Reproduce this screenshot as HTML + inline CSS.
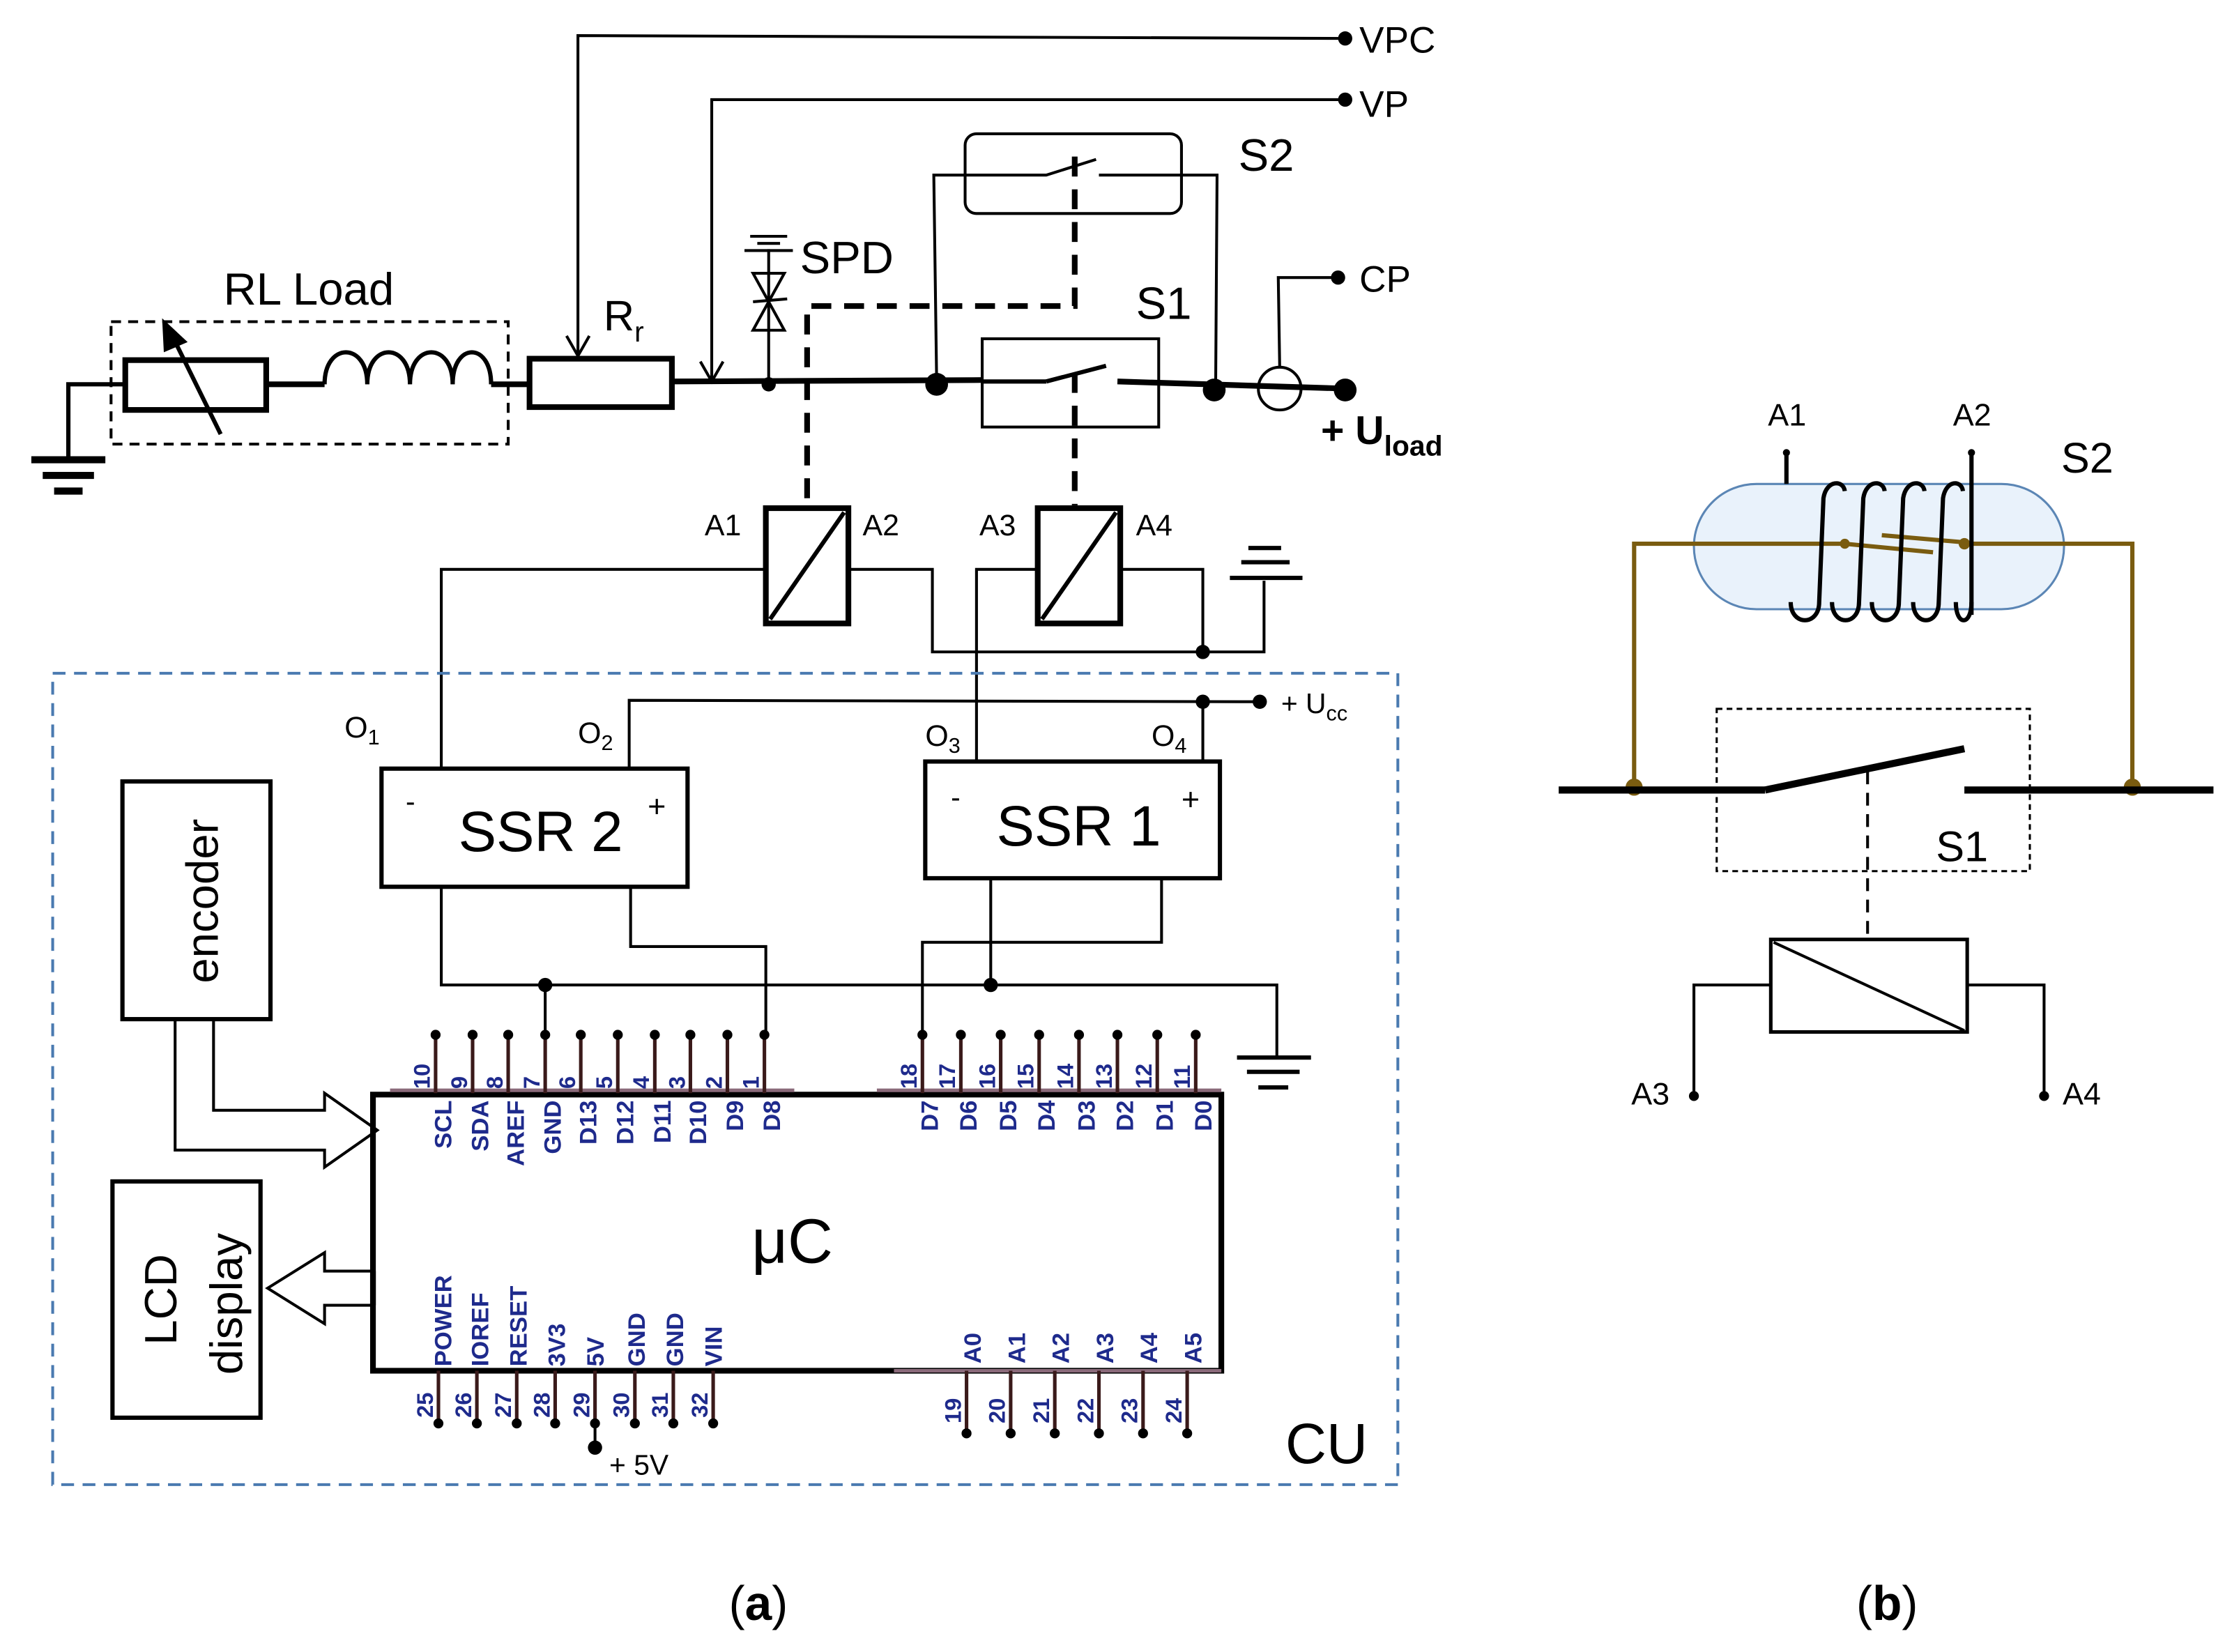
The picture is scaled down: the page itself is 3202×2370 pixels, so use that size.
<!DOCTYPE html>
<html><head><meta charset="utf-8"><style>
html,body{margin:0;padding:0;background:#fff;}
svg{display:block;}
text{font-family:"Liberation Sans",sans-serif;}
.pl{font-size:16px;font-weight:bold;fill:#1e2a8c;}
.pn{font-size:17px;font-weight:bold;fill:#1e2a8c;}
</style></head><body>
<svg width="3202" height="2370" viewBox="0 0 1568 1160.6" xmlns="http://www.w3.org/2000/svg">
<rect width="1568" height="1161" fill="#fff"/>
<g stroke="#000" fill="none" stroke-width="2">
<polyline points="406,248 406,25 945,27"/>
<polyline points="398,236 406,250 414,236"/>
<polyline points="500,266 500,70 945,70"/>
<polyline points="492,254 500,268 508,254"/>
<polyline points="48,322 48,270 88,270" stroke-width="3"/>
<line x1="22" y1="323" x2="74" y2="323" stroke-width="5"/>
<line x1="30" y1="334" x2="66" y2="334" stroke-width="5"/>
<line x1="38" y1="345" x2="58" y2="345" stroke-width="5"/>
<rect x="78" y="226" width="279" height="86" stroke-dasharray="7,5"/>
<rect x="88" y="253" width="99" height="35" stroke-width="4"/>
<line x1="155" y1="305" x2="122" y2="238" stroke-width="3"/>
<polygon points="115,226 130,240 116,246" fill="#000"/>
<line x1="187" y1="270" x2="228" y2="270" stroke-width="4"/>
<path d="M228,270 C228,240 258,240 258,270 C258,240 288,240 288,270 C288,240 318,240 318,270 C318,240 345,240 345,270" stroke-width="3"/>
<line x1="345" y1="270" x2="372" y2="270" stroke-width="4"/>
<rect x="372" y="252" width="100" height="34" stroke-width="4"/>
<line x1="472" y1="268" x2="690" y2="267" stroke-width="4"/>
<line x1="690" y1="268" x2="735" y2="268" stroke-width="3"/>
<line x1="735" y1="268" x2="777" y2="257" stroke-width="3"/>
<line x1="785" y1="268" x2="945" y2="273" stroke-width="4"/>
<circle cx="899" cy="273" r="15" stroke-width="2"/>
<polyline points="899,258 898,195 940,195"/>
<line x1="540" y1="268" x2="540" y2="175"/>
<line x1="527" y1="166" x2="553" y2="166" stroke-width="2"/>
<line x1="532" y1="171" x2="548" y2="171" stroke-width="2"/>
<line x1="523" y1="176" x2="557" y2="176" stroke-width="2"/>
<polygon points="529,192 551,192 540,212"/>
<polygon points="529,232 551,232 540,212"/>
<line x1="529" y1="212" x2="553" y2="210"/>
<rect x="690" y="238" width="124" height="62"/>
<rect x="678" y="94" width="152" height="56" rx="8"/>
<polyline points="658,268 656,123 735,123 770,112"/>
<polyline points="772,123 855,123 854,273"/>
<polyline points="755,110 755,215 567,215 567,355" stroke-width="4" stroke-dasharray="14,9"/>
<line x1="755" y1="262" x2="755" y2="355" stroke-width="4" stroke-dasharray="14,9"/>
<rect x="538" y="357" width="58" height="81" stroke-width="4"/>
<line x1="541" y1="435" x2="593" y2="360" stroke-width="3"/>
<rect x="729" y="357" width="58" height="81" stroke-width="4"/>
<line x1="732" y1="435" x2="784" y2="360" stroke-width="3"/>
<polyline points="538,400 310,400 310,540"/>
<polyline points="596,400 655,400 655,458 888,458 888,408"/>
<polyline points="729,400 686,400 686,535"/>
<polyline points="787,400 845,400 845,458"/>
<line x1="877" y1="385" x2="900" y2="385" stroke-width="3"/>
<line x1="872" y1="395" x2="906" y2="395" stroke-width="3"/>
<line x1="864" y1="406" x2="915" y2="406" stroke-width="3"/>
<polyline points="442,540 442,492 885,493"/>
<line x1="845" y1="493" x2="845" y2="535"/>
<rect x="37" y="473" width="945" height="570" stroke="#4a7ab0" stroke-dasharray="9,6"/>
<rect x="268" y="540" width="215" height="83" stroke-width="3"/>
<rect x="650" y="535" width="207" height="82" stroke-width="3"/>
<polyline points="310,623 310,692 897,692 897,742"/>
<line x1="869" y1="743" x2="921" y2="743" stroke-width="3"/>
<line x1="876" y1="753" x2="913" y2="753" stroke-width="3"/>
<line x1="884" y1="764" x2="905" y2="764" stroke-width="3"/>
<polyline points="443,623 443,665 538,665 538,725"/>
<line x1="696" y1="617" x2="696" y2="692"/>
<polyline points="816,617 816,662 648,662 648,725"/>
<line x1="383" y1="692" x2="383" y2="725"/>
<rect x="262" y="769" width="596" height="194" stroke-width="4"/>
<rect x="86" y="549" width="104" height="167" stroke-width="3"/>
<rect x="79" y="830" width="104" height="166" stroke-width="3"/>
<polygon points="123,716 123,808 228,808 228,820 265,794 228,768 228,780 150,780 150,716" stroke-width="2"/>
<polygon points="262,893 228,893 228,880 188,905 228,930 228,917 262,917" stroke-width="2"/>
<line x1="262" y1="893" x2="262" y2="917" stroke-width="4"/>
<line x1="418" y1="1000" x2="418" y2="1017"/>
</g>
<g stroke="#3a1a1a" stroke-width="2.5">
<line x1="274" y1="766" x2="558" y2="766" stroke="#8a6a7a"/>
<line x1="616" y1="766" x2="858" y2="766" stroke="#8a6a7a"/>
<line x1="628" y1="963" x2="858" y2="963" stroke="#8a6a7a"/>
<line x1="306" y1="725" x2="306" y2="768"/><line x1="332" y1="725" x2="332" y2="768"/><line x1="357" y1="725" x2="357" y2="768"/><line x1="383" y1="725" x2="383" y2="768"/><line x1="408" y1="725" x2="408" y2="768"/><line x1="434" y1="725" x2="434" y2="768"/><line x1="460" y1="725" x2="460" y2="768"/><line x1="485" y1="725" x2="485" y2="768"/><line x1="511" y1="725" x2="511" y2="768"/><line x1="537" y1="725" x2="537" y2="768"/>
<line x1="648" y1="725" x2="648" y2="768"/><line x1="675" y1="725" x2="675" y2="768"/><line x1="703" y1="725" x2="703" y2="768"/><line x1="730" y1="725" x2="730" y2="768"/><line x1="758" y1="725" x2="758" y2="768"/><line x1="785" y1="725" x2="785" y2="768"/><line x1="813" y1="725" x2="813" y2="768"/><line x1="840" y1="725" x2="840" y2="768"/>
<line x1="308" y1="963" x2="308" y2="1001"/><line x1="335" y1="963" x2="335" y2="1001"/><line x1="363" y1="963" x2="363" y2="1001"/><line x1="390" y1="963" x2="390" y2="1001"/><line x1="418" y1="963" x2="418" y2="1001"/><line x1="446" y1="963" x2="446" y2="1001"/><line x1="473" y1="963" x2="473" y2="1001"/><line x1="501" y1="963" x2="501" y2="1001"/>
<line x1="679" y1="963" x2="679" y2="1008"/><line x1="710" y1="963" x2="710" y2="1008"/><line x1="741" y1="963" x2="741" y2="1008"/><line x1="772" y1="963" x2="772" y2="1008"/><line x1="803" y1="963" x2="803" y2="1008"/><line x1="834" y1="963" x2="834" y2="1008"/>
</g>
<g fill="#000">
<circle cx="306" cy="727" r="3.5"/><circle cx="332" cy="727" r="3.5"/><circle cx="357" cy="727" r="3.5"/><circle cx="383" cy="727" r="3.5"/><circle cx="408" cy="727" r="3.5"/><circle cx="434" cy="727" r="3.5"/><circle cx="460" cy="727" r="3.5"/><circle cx="485" cy="727" r="3.5"/><circle cx="511" cy="727" r="3.5"/><circle cx="537" cy="727" r="3.5"/>
<circle cx="648" cy="727" r="3.5"/><circle cx="675" cy="727" r="3.5"/><circle cx="703" cy="727" r="3.5"/><circle cx="730" cy="727" r="3.5"/><circle cx="758" cy="727" r="3.5"/><circle cx="785" cy="727" r="3.5"/><circle cx="813" cy="727" r="3.5"/><circle cx="840" cy="727" r="3.5"/>
<circle cx="308" cy="1000" r="3.5"/><circle cx="335" cy="1000" r="3.5"/><circle cx="363" cy="1000" r="3.5"/><circle cx="390" cy="1000" r="3.5"/><circle cx="418" cy="1000" r="3.5"/><circle cx="446" cy="1000" r="3.5"/><circle cx="473" cy="1000" r="3.5"/><circle cx="501" cy="1000" r="3.5"/>
<circle cx="679" cy="1007" r="3.5"/><circle cx="710" cy="1007" r="3.5"/><circle cx="741" cy="1007" r="3.5"/><circle cx="772" cy="1007" r="3.5"/><circle cx="803" cy="1007" r="3.5"/><circle cx="834" cy="1007" r="3.5"/>
<circle cx="945" cy="27" r="5"/><circle cx="945" cy="70" r="5"/><circle cx="940" cy="195" r="5"/>
<circle cx="540" cy="270" r="5"/><circle cx="658" cy="270" r="8"/><circle cx="853" cy="274" r="8"/><circle cx="945" cy="274" r="8"/>
<circle cx="845" cy="458" r="5"/><circle cx="845" cy="493" r="5"/><circle cx="885" cy="493" r="5"/>
<circle cx="383" cy="692" r="5"/><circle cx="696" cy="692" r="5"/><circle cx="418" cy="1017" r="5"/>
</g>
<g class="pl">
<text transform="translate(302,765) rotate(-90)">10</text><text transform="translate(328,765) rotate(-90)">9</text><text transform="translate(353,765) rotate(-90)">8</text><text transform="translate(379,765) rotate(-90)">7</text><text transform="translate(404,765) rotate(-90)">6</text><text transform="translate(430,765) rotate(-90)">5</text><text transform="translate(456,765) rotate(-90)">4</text><text transform="translate(481,765) rotate(-90)">3</text><text transform="translate(507,765) rotate(-90)">2</text><text transform="translate(533,765) rotate(-90)">1</text>
<text transform="translate(644,765) rotate(-90)">18</text><text transform="translate(671,765) rotate(-90)">17</text><text transform="translate(699,765) rotate(-90)">16</text><text transform="translate(726,765) rotate(-90)">15</text><text transform="translate(754,765) rotate(-90)">14</text><text transform="translate(781,765) rotate(-90)">13</text><text transform="translate(809,765) rotate(-90)">12</text><text transform="translate(836,765) rotate(-90)">11</text>
<text transform="translate(304,996) rotate(-90)">25</text><text transform="translate(331,996) rotate(-90)">26</text><text transform="translate(359,996) rotate(-90)">27</text><text transform="translate(386,996) rotate(-90)">28</text><text transform="translate(414,996) rotate(-90)">29</text><text transform="translate(442,996) rotate(-90)">30</text><text transform="translate(469,996) rotate(-90)">31</text><text transform="translate(497,996) rotate(-90)">32</text>
<text transform="translate(675,1000) rotate(-90)">19</text><text transform="translate(706,1000) rotate(-90)">20</text><text transform="translate(737,1000) rotate(-90)">21</text><text transform="translate(768,1000) rotate(-90)">22</text><text transform="translate(799,1000) rotate(-90)">23</text><text transform="translate(830,1000) rotate(-90)">24</text>
</g>
<g class="pn">
<g text-anchor="end">
<text transform="translate(317,773) rotate(-90)">SCL</text><text transform="translate(343,773) rotate(-90)">SDA</text><text transform="translate(368,773) rotate(-90)">AREF</text><text transform="translate(394,773) rotate(-90)">GND</text><text transform="translate(419,773) rotate(-90)">D13</text><text transform="translate(445,773) rotate(-90)">D12</text><text transform="translate(471,773) rotate(-90)">D11</text><text transform="translate(496,773) rotate(-90)">D10</text><text transform="translate(522,773) rotate(-90)">D9</text><text transform="translate(548,773) rotate(-90)">D8</text>
<text transform="translate(659,773) rotate(-90)">D7</text><text transform="translate(686,773) rotate(-90)">D6</text><text transform="translate(714,773) rotate(-90)">D5</text><text transform="translate(741,773) rotate(-90)">D4</text><text transform="translate(769,773) rotate(-90)">D3</text><text transform="translate(796,773) rotate(-90)">D2</text><text transform="translate(824,773) rotate(-90)">D1</text><text transform="translate(851,773) rotate(-90)">D0</text>
</g>
<text transform="translate(317,960) rotate(-90)">POWER</text><text transform="translate(343,960) rotate(-90)">IOREF</text><text transform="translate(370,960) rotate(-90)">RESET</text><text transform="translate(397,960) rotate(-90)">3V3</text><text transform="translate(424,960) rotate(-90)">5V</text><text transform="translate(453,960) rotate(-90)">GND</text><text transform="translate(480,960) rotate(-90)">GND</text><text transform="translate(507,960) rotate(-90)">VIN</text>
<text transform="translate(689,958) rotate(-90)">A0</text><text transform="translate(720,958) rotate(-90)">A1</text><text transform="translate(751,958) rotate(-90)">A2</text><text transform="translate(782,958) rotate(-90)">A3</text><text transform="translate(813,958) rotate(-90)">A4</text><text transform="translate(844,958) rotate(-90)">A5</text>
</g>
<g fill="#000">
<text x="955" y="37" font-size="26">VPC</text>
<text x="955" y="82" font-size="26">VP</text>
<text x="955" y="205" font-size="26">CP</text>
<text x="870" y="120" font-size="32">S2</text>
<text x="798" y="224" font-size="32">S1</text>
<text x="562" y="192" font-size="32">SPD</text>
<text x="157" y="214" font-size="32">RL Load</text>
<text x="424" y="232" font-size="30">R<tspan font-size="20" dy="8">r</tspan></text>
<text x="928" y="312" font-size="28" font-weight="bold">+ U<tspan font-size="20" dy="8">load</tspan></text>
<text x="495" y="376" font-size="21">A1</text>
<text x="606" y="376" font-size="21">A2</text>
<text x="688" y="376" font-size="21">A3</text>
<text x="798" y="376" font-size="21">A4</text>
<text x="900" y="501" font-size="20">+ U<tspan font-size="15" dy="5">cc</tspan></text>
<text x="242" y="518" font-size="21">O<tspan font-size="15" dy="5">1</tspan></text>
<text x="406" y="522" font-size="21">O<tspan font-size="15" dy="5">2</tspan></text>
<text x="650" y="524" font-size="21">O<tspan font-size="15" dy="5">3</tspan></text>
<text x="809" y="524" font-size="21">O<tspan font-size="15" dy="5">4</tspan></text>
<text x="322" y="598" font-size="40">SSR 2</text>
<text x="285" y="570" font-size="20">-</text>
<text x="455" y="574" font-size="22">+</text>
<text x="700" y="594" font-size="40">SSR 1</text>
<text x="668" y="567" font-size="20">-</text>
<text x="830" y="569" font-size="22">+</text>
<text transform="translate(153,633) rotate(-90)" font-size="32" text-anchor="middle">encoder</text>
<text transform="translate(124,913) rotate(-90)" font-size="32" text-anchor="middle">LCD</text>
<text transform="translate(170,916) rotate(-90)" font-size="32" text-anchor="middle">display</text>
<text x="528" y="887" font-size="44" font-family="Liberation Serif, serif">μC</text>
<text x="903" y="1028" font-size="40">CU</text>
<text x="428" y="1036" font-size="20">+ 5V</text>
<text x="512" y="1138" font-size="34" font-family="Liberation Serif, serif">(<tspan font-weight="bold">a</tspan>)</text>
<text x="1304" y="1138" font-size="34" font-family="Liberation Serif, serif">(<tspan font-weight="bold">b</tspan>)</text>
<text x="1242" y="299" font-size="22">A1</text>
<text x="1372" y="299" font-size="22">A2</text>
<text x="1448" y="332" font-size="30">S2</text>
<text x="1360" y="605" font-size="30">S1</text>
<text x="1146" y="776" font-size="22">A3</text>
<text x="1449" y="776" font-size="22">A4</text>
</g>
<rect x="1190" y="340" width="260" height="88" rx="44" fill="#e9f2fb" stroke="#5b86b5" stroke-width="1.5"/>
<g fill="none" stroke="#7a5c10" stroke-width="3">
<polyline points="1148,553 1148,382 1296,382"/>
<line x1="1296" y1="382" x2="1358" y2="388"/>
<line x1="1322" y1="376" x2="1380" y2="381"/>
<polyline points="1380,382 1498,382 1498,553"/>
</g>
<g fill="#7a5c10"><circle cx="1148" cy="553" r="6"/><circle cx="1498" cy="553" r="6"/><circle cx="1296" cy="382" r="3.5"/><circle cx="1380" cy="382" r="4"/></g>
<g fill="none" stroke="#000" stroke-width="3">
<line x1="1255" y1="318" x2="1255" y2="340"/>
<line x1="1385" y1="318" x2="1385" y2="432"/>
<path d="M1258,423 C1258,440 1278,440 1278,423 L1281,350 C1283,337 1295,337 1296,345"/>
<path d="M1287,423 C1287,440 1306,440 1306,423 L1309,350 C1311,337 1323,337 1324,345"/>
<path d="M1315,423 C1315,440 1334,440 1334,423 L1337,350 C1339,337 1351,337 1352,345"/>
<path d="M1344,423 C1344,440 1362,440 1362,423 L1365,350 C1367,337 1378,337 1379,345"/>
<path d="M1374,423 C1374,440 1385,440 1385,423"/>
<line x1="1095" y1="555" x2="1240" y2="555" stroke-width="5"/>
<line x1="1240" y1="555" x2="1380" y2="526" stroke-width="5"/>
<line x1="1380" y1="555" x2="1555" y2="555" stroke-width="5"/>
<rect x="1206" y="498" width="220" height="114" stroke-width="1.5" stroke-dasharray="4,3"/>
<line x1="1312" y1="542" x2="1312" y2="660" stroke-width="2" stroke-dasharray="9,6"/>
<rect x="1244" y="660" width="138" height="65" stroke-width="2.5"/>
<line x1="1246" y1="662" x2="1380" y2="724" stroke-width="2"/>
<polyline points="1244,692 1190,692 1190,770" stroke-width="2"/>
<polyline points="1382,692 1436,692 1436,770" stroke-width="2"/>
</g>
<g fill="#000"><circle cx="1255" cy="318" r="2.5"/><circle cx="1385" cy="318" r="2.5"/><circle cx="1190" cy="770" r="3.5"/><circle cx="1436" cy="770" r="3.5"/></g>
</svg>
</body></html>
